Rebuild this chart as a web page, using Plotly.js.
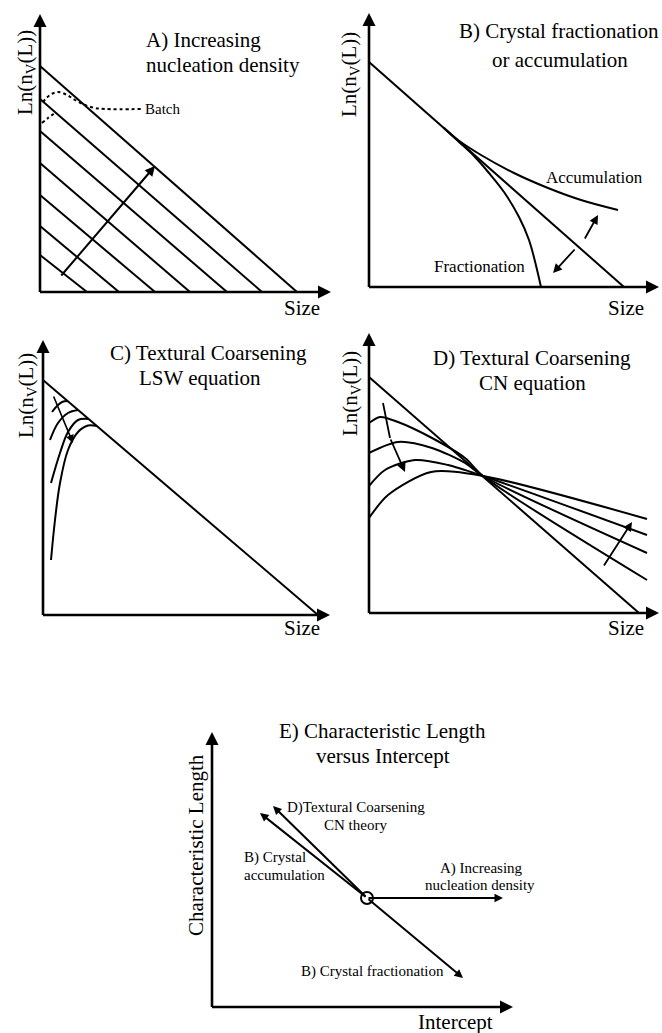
<!DOCTYPE html>
<html><head><meta charset="utf-8">
<script src="https://cdn.plot.ly/plotly-3.0.1.min.js"></script>
<style>html,body{margin:0;padding:0;background:#fff}</style>
</head><body><div id="chart" style="width:662px;height:1033px"></div>
<script>
// ---------- DATA (arbitrary schematic units) ----------
// Panel A: family of parallel CSDs (y-intercept, x-intercept)
const A_yInt = [226, 193, 161, 129, 97, 66, 37];
const A_xInt = [257, 222, 187, 150, 115, 79, 47];
const A_batch1X = [3, 10, 18, 27, 35, 45, 55, 65, 102];
const A_batch1Y = [190, 197, 200, 197, 192, 187, 184, 183, 183];
const A_batch2X = [2, 8, 15];
const A_batch2Y = [169, 174, 179];
const A_arrowX = [20, 115];
const A_arrowY = [15, 126];

// Panel B: crystal fractionation / accumulation
const B_lineX = [0, 255];
const B_lineY = [225, 0];
const B_accX = [75, 89, 112, 145, 179, 212, 249];
const B_accY = [159, 147, 132, 114, 99, 87, 77];
const B_fracX = [75, 89, 105, 120, 135, 150, 160, 172];
const B_fracY = [159, 146, 131, 114, 95, 70, 47, 0];
const B_arrowUpX = [215, 229];
const B_arrowUpY = [47, 72];
const B_arrowDnX = [207, 184];
const B_arrowDnY = [39, 14];

// Panel C: LSW coarsening
const C_lineX = [0, 275];
const C_lineY = [235, 0];
const C_arcsX = [
  [9, 14, 19, 25],
  [7, 15, 25, 35],
  [8, 17, 25, 35, 45],
  [8, 12, 17, 25, 35, 45, 54]
];
const C_arcsY = [
  [203, 209, 213, 214],
  [175, 192, 202, 205],
  [132, 162, 183, 195, 196],
  [55, 95, 132, 165, 183, 189.5, 189]
];
const C_arrowX = [10, 30];
const C_arrowY = [220, 172];

// Panel D: CN coarsening
const D_lineX = [0, 270];
const D_lineY = [236, 0];
const D_curvesX = [
  [0, 11, 29, 63, 96, 114, 278],
  [0, 29, 63, 96, 114, 278],
  [0, 16, 46, 79, 114, 278],
  [0, 19, 62, 114, 278]
];
const D_curvesY = [
  [190, 196, 191, 175, 155, 137, 33],
  [160, 171, 165, 150, 137, 60],
  [127, 143, 153, 148, 137, 78],
  [95, 118, 141, 137, 94]
];
const D_arrowLX = [14, 21, 36];
const D_arrowLY = [210, 175, 141];
const D_arrowRX = [234, 263];
const D_arrowRY = [46, 91];

// Panel E: characteristic length vs intercept
const E_center = [155, 109];
const E_endsX = [291, 61, 48, 251];
const E_endsY = [109, 201, 194, 29];

// Labels
const yLabelCSD = 'Ln(n<sub>V</sub>(L))';
const xLabelCSD = 'Size';
const titles = {
  A: ['A) Increasing', 'nucleation density'],
  B: ['B) Crystal fractionation', 'or accumulation'],
  C: ['C) Textural Coarsening', 'LSW equation'],
  D: ['D) Textural Coarsening', 'CN equation'],
  E: ['E) Characteristic Length', 'versus Intercept']
};
const E_labels = ['D)Textural Coarsening', 'CN theory', 'B) Crystal', 'accumulation',
                  'A) Increasing', 'nucleation density', 'B) Crystal fractionation'];

// ---------- LAYOUT ----------
const W = 662, H = 1033;
const FONT = 'Liberation Serif, serif';
// origin pixel and axis tip (in units, 1 unit = 1 px)
const P = {
  A: {ox: 40,  oy: 292,  tx: 291, ty: 278, n: ''},
  B: {ox: 369, oy: 287,  tx: 290, ty: 274, n: '2'},
  C: {ox: 43,  oy: 615,  tx: 287, ty: 275, n: '3'},
  D: {ox: 369, oy: 613,  tx: 290, ty: 280, n: '4'},
  E: {ox: 212, oy: 1007, tx: 301, ty: 275, n: '5'}
};

const layout = {
  width: W, height: H,
  margin: {l: 0, r: 0, t: 0, b: 0},
  paper_bgcolor: '#fff', plot_bgcolor: 'rgba(0,0,0,0)',
  showlegend: false,
  font: {family: FONT, color: '#000'},
  annotations: []
};

function arrow(n, x, y, ax, ay, w, size) {
  return {
    xref: 'x' + n, yref: 'y' + n, axref: 'x' + n, ayref: 'y' + n,
    x: x, y: y, ax: ax, ay: ay, text: '', showarrow: true,
    arrowhead: 2, arrowwidth: w, arrowsize: size, arrowcolor: '#000',
    standoff: 0, startstandoff: 0
  };
}
function txt(t, px, py, size, xanchor, angle) {
  return {
    xref: 'paper', yref: 'paper', x: px / W, y: 1 - py / H,
    text: t, showarrow: false, xanchor: xanchor || 'center', yanchor: 'middle',
    textangle: angle || 0, font: {family: FONT, size: size, color: '#000'}
  };
}

for (const k in P) {
  const p = P[k];
  const x0 = -8, x1 = Math.min(p.tx + 6, W - p.ox);
  const y0 = -8, y1 = Math.min(p.ty + 6, p.oy);
  layout['xaxis' + p.n] = {
    domain: [(p.ox + x0) / W, (p.ox + x1) / W], range: [x0, x1],
    visible: false, fixedrange: true, anchor: 'y' + p.n
  };
  layout['yaxis' + p.n] = {
    domain: [1 - (p.oy - y0) / H, 1 - (p.oy - y1) / H], range: [y0, y1],
    visible: false, fixedrange: true, anchor: 'x' + p.n
  };
  // axis arrows
  layout.annotations.push(arrow(p.n, p.tx, 0, -1.5, 0, 2.6, 1));
  layout.annotations.push(arrow(p.n, 0, p.ty, 0, -1.5, 2.6, 1));
}

const traces = [];
function line(n, xs, ys, opts) {
  opts = opts || {};
  traces.push({
    type: 'scatter', mode: 'lines', x: xs, y: ys,
    xaxis: 'x' + n, yaxis: 'y' + n, hoverinfo: 'skip',
    line: Object.assign({color: '#000', width: 2}, opts)
  });
}

// Panel A
for (let i = 0; i < A_yInt.length; i++) line('', [0, A_xInt[i]], [A_yInt[i], 0]);
line('', A_batch1X, A_batch1Y, {dash: 'dot', width: 2, shape: 'spline'});
line('', A_batch2X, A_batch2Y, {dash: 'dot', width: 2, shape: 'spline'});
layout.annotations.push(arrow('', A_arrowX[1], A_arrowY[1], A_arrowX[0], A_arrowY[0], 2, 1));

// Panel B
line('2', B_lineX, B_lineY);
line('2', B_accX, B_accY, {shape: 'spline'});
line('2', B_fracX, B_fracY, {shape: 'spline'});
layout.annotations.push(arrow('2', B_arrowUpX[1], B_arrowUpY[1], B_arrowUpX[0], B_arrowUpY[0], 1.8, 1));
layout.annotations.push(arrow('2', B_arrowDnX[1], B_arrowDnY[1], B_arrowDnX[0], B_arrowDnY[0], 1.8, 1));

// Panel C
line('3', C_lineX, C_lineY);
for (let i = 0; i < C_arcsX.length; i++) line('3', C_arcsX[i], C_arcsY[i], {shape: 'spline'});
layout.annotations.push(arrow('3', C_arrowX[1], C_arrowY[1], C_arrowX[0], C_arrowY[0], 1.6, 1));

// Panel D
line('4', D_lineX, D_lineY);
for (let i = 0; i < D_curvesX.length; i++) line('4', D_curvesX[i], D_curvesY[i], {shape: 'spline', smoothing: 0.8});
line('4', D_arrowLX.slice(0, 2), D_arrowLY.slice(0, 2), {width: 1.8});
layout.annotations.push(arrow('4', D_arrowLX[2], D_arrowLY[2], D_arrowLX[1], D_arrowLY[1], 1.8, 1));
layout.annotations.push(arrow('4', D_arrowRX[1], D_arrowRY[1], D_arrowRX[0], D_arrowRY[0], 1.8, 1));

// Panel E
for (let i = 0; i < E_endsX.length; i++) {
  layout.annotations.push(arrow('5', E_endsX[i], E_endsY[i], E_center[0], E_center[1], 2, 0.85));
}
traces.push({
  type: 'scatter', mode: 'markers', x: [E_center[0]], y: [E_center[1]],
  xaxis: 'x5', yaxis: 'y5', hoverinfo: 'skip',
  marker: {size: 12, color: '#fff', line: {color: '#000', width: 2}}
});

// Texts
const A = layout.annotations;
A.push(txt(titles.A[0], 144, 40, 21, 'left'));
A.push(txt(titles.A[1], 144, 65, 21, 'left'));
A.push(txt(titles.B[0], 559, 31, 21));
A.push(txt(titles.B[1], 560, 60, 21));
A.push(txt(titles.C[0], 208, 353, 21));
A.push(txt(titles.C[1], 200, 378, 21));
A.push(txt(titles.D[0], 532, 358, 21));
A.push(txt(titles.D[1], 532, 383, 21));
A.push(txt(titles.E[0], 382, 731, 21));
A.push(txt(titles.E[1], 383, 756, 21));

A.push(txt(yLabelCSD, 26, 73, 21, 'center', -90));
A.push(txt(yLabelCSD, 350, 75, 21, 'center', -90));
A.push(txt(yLabelCSD, 27, 396, 21, 'center', -90));
A.push(txt(yLabelCSD, 351, 394, 21, 'center', -90));
A.push(txt('Characteristic Length', 196, 845, 21, 'center', -90));

A.push(txt(xLabelCSD, 302, 308, 21));
A.push(txt(xLabelCSD, 626, 308, 21));
A.push(txt(xLabelCSD, 302, 628, 21));
A.push(txt(xLabelCSD, 626, 628, 21));
A.push(txt('Intercept', 455, 1022, 21));

A.push(txt('Batch', 143, 109, 15, 'left'));
A.push(txt('Accumulation', 594, 177, 17));
A.push(txt('Fractionation', 479, 266, 17));

A.push(txt(E_labels[0], 285, 807, 15, 'left'));
A.push(txt(E_labels[1], 355, 825, 15));
A.push(txt(E_labels[2], 242, 857, 15, 'left'));
A.push(txt(E_labels[3], 242, 875, 15, 'left'));
A.push(txt(E_labels[4], 481, 868, 15));
A.push(txt(E_labels[5], 480, 885, 15));
A.push(txt(E_labels[6], 372, 971, 15));

Plotly.newPlot('chart', traces, layout, {displayModeBar: false, staticPlot: true});
</script>
</body></html>
